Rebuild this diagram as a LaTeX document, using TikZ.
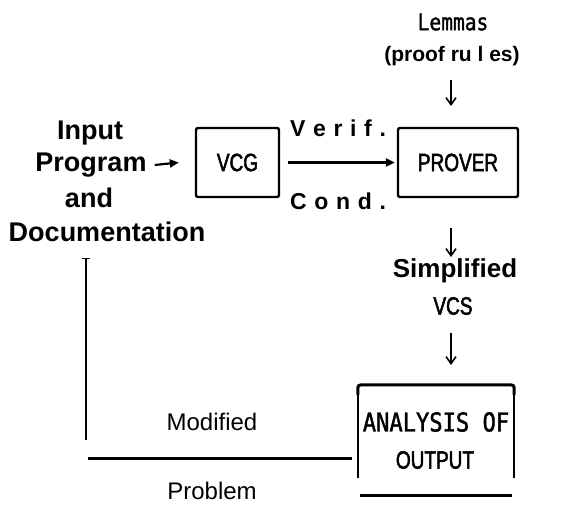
\documentclass[tikz,border=0pt]{standalone}
\usepackage{fontspec}
\setmainfont{Liberation Sans}
\newfontfamily\narrowfont[FakeStretch=0.76,FakeBold=2]{Liberation Sans}
\newfontfamily\ocrfont[FakeStretch=0.85,FakeBold=1.5]{DejaVu Sans Mono}
\usetikzlibrary{arrows.meta}
\begin{document}
\begin{tikzpicture}[x=1pt,y=-1pt,
  boldtxt/.style={font=\fontsize{27}{30}\selectfont\bfseries, inner sep=0pt, anchor=center},
  midbold/.style={font=\fontsize{23}{26}\selectfont\bfseries, inner sep=0pt},
  condtxt/.style={font=\fontsize{25}{28}\narrowfont, inner sep=0pt},
  ocrtxt/.style={font=\fontsize{26}{29}\ocrfont, inner sep=0pt},
  plaintxt/.style={font=\fontsize{24}{27}\selectfont, inner sep=0pt},
  procbox/.style={draw, line width=2.4pt, rounded corners=2pt, minimum height=69pt, inner sep=0pt},
  downarrow/.style={line width=1.6pt, -{Straight Barb[length=7pt,width=10pt,line width=1.6pt]}},
  sidearrow/.style={line width=2.2pt, -{Triangle[length=9pt,width=8pt]}}]
\useasboundingbox (0,0) rectangle (582,506);

% input text
\node[boldtxt] (input) at (90,133) {Input};
\node[boldtxt] (program) at (91,165) {Program};
\node[boldtxt] (and) at (89,198) {and};
\node[boldtxt] (doc) at (107,232) {Documentation};

% boxes
\node[procbox, minimum width=83pt] (vcg) at (237.5,162.5) {};
\node[condtxt] at (vcg.center) {VCG};
\node[procbox, minimum width=120pt] (prover) at (458,162.5) {};
\node[condtxt] at (prover.center) {PROVER};

\draw[sidearrow] ([xshift=8pt]program.east) -- ([xshift=-16pt]vcg.west);
\draw[sidearrow] ([xshift=8pt]vcg.east) -- ([xshift=-2pt]prover.west);

\node[midbold] (verif) at (338,128) {V\,\,e\,\,r\,\,i\,\,f\,\,.};
\node[midbold] (cond) at (338,201) {C\,\,o\,\,n\,\,d\,\,.};

% lemmas
\node[ocrtxt, font=\fontsize{23}{26}\ocrfont] (lemmas) at (453,22) {Lemmas};
\node[midbold, font=\fontsize{21}{24}\selectfont\bfseries] (rules) at (452,56) {(proof ru l es)};
\coordinate (pt) at (451,106);
\draw[downarrow] (451,80) -- (pt);

% simplified
\node[boldtxt, font=\fontsize{26}{29}\selectfont\bfseries] (simp) at (455,271) {Simplified};
\node[condtxt] (vcs) at (453,306) {VCS};
\coordinate (pb) at (451,257);
\draw[downarrow] (451,228) -- (pb);
\coordinate (sb) at (451,365);
\draw[downarrow] (451,333) -- (sb);

% analysis box
\node[inner sep=0pt, minimum width=156pt, minimum height=110pt] (ana) at (436,440) {};
\node[ocrtxt] (anal) at (436,422) {ANALYSIS OF};
\node[condtxt] (outp) at (435,460) {OUTPUT};
\draw[line width=3pt, rounded corners=3pt] ([yshift=-10pt]ana.north west) -- (ana.north west) -- (ana.north east) -- ([yshift=-10pt]ana.north east);
\draw[line width=1.6pt] ([yshift=-8pt]ana.north west) -- ([yshift=17pt]ana.south west);
\draw[line width=1.6pt] ([yshift=-8pt]ana.north east) -- ([yshift=17pt]ana.south east);
\draw[line width=3pt] ([xshift=2pt]ana.south west) -- ([xshift=-2pt]ana.south east);

% feedback
\coordinate (hl) at (88,458);
\coordinate (hr) at (352,458);
\draw[line width=3pt] (hr) -- (hl);
\coordinate (vb) at (86,440);
\coordinate (vt) at (86,258);
\draw[line width=1.2pt, -{Bar[width=8pt,line width=1pt]}] (vb) -- (vt);
\node[plaintxt] (mod) at (212,422) {Modified};
\node[plaintxt] (prob) at (212,491) {Problem};
\end{tikzpicture}
\end{document}
